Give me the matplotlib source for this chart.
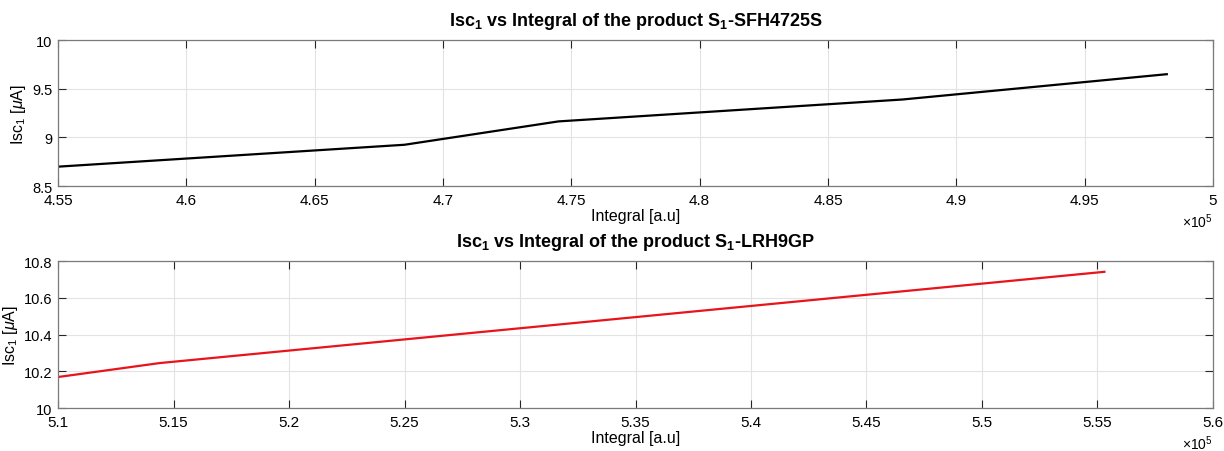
import numpy as np
import matplotlib
matplotlib.use('Agg')
import matplotlib.pyplot as plt
from matplotlib.ticker import FuncFormatter, MultipleLocator

plt.rcParams['font.family'] = ['Liberation Sans', 'DejaVu Sans']
plt.rcParams['mathtext.fontset'] = 'custom'
plt.rcParams['mathtext.rm'] = 'Liberation Sans'
plt.rcParams['mathtext.it'] = 'Liberation Sans:italic'
plt.rcParams['mathtext.bf'] = 'Liberation Sans:bold'

# ---- data ----
integral_sfh = [455000, 468500, 474500, 487900, 498200]
isc_sfh = [8.70, 8.925, 9.165, 9.39, 9.65]

integral_lrh = [510000, 514400, 555300]
isc_lrh = [10.169, 10.245, 10.742]

title_sfh = r'Isc$_\mathbf{1}$ vs Integral of the product S$_\mathbf{1}$-SFH4725S'
title_lrh = r'Isc$_\mathbf{1}$ vs Integral of the product S$_\mathbf{1}$-LRH9GP'

fig = plt.figure(figsize=(12.24, 4.52), dpi=100)
ax1 = fig.add_axes([0.0474, 0.586, 0.9436, 0.323])
ax2 = fig.add_axes([0.0474, 0.095, 0.9436, 0.325])

fmt_x = FuncFormatter(lambda v, p: '%g' % round(v / 1e5, 4))
fmt_y = FuncFormatter(lambda v, p: '%g' % round(v, 4))


def style(ax, xlim, ylim, xstep, ystep, title):
    ax.set_xlim(*xlim)
    ax.set_ylim(*ylim)
    ax.xaxis.set_major_locator(MultipleLocator(xstep))
    ax.yaxis.set_major_locator(MultipleLocator(ystep))
    ax.xaxis.set_major_formatter(fmt_x)
    ax.yaxis.set_major_formatter(fmt_y)
    ax.grid(True, color='#e3e3e3', linewidth=0.8)
    ax.set_axisbelow(True)
    ax.tick_params(direction='in', top=True, right=True, length=6,
                   width=0.8, color='#262626')
    ax.tick_params(axis='x', pad=5, labelsize=11)
    ax.tick_params(axis='y', pad=4, labelsize=10.5)
    for s in ax.spines.values():
        s.set_color('#7a7a7a')
        s.set_linewidth(0.9)
    ax.set_xlabel('Integral [a.u]', fontsize=11.5, labelpad=1)
    ax.set_ylabel(r'Isc$_1$ [$\mathit{\mu}$A]', fontsize=11.5, labelpad=3)
    ax.set_title(title, fontsize=13, fontweight='bold', pad=11)
    ax.text(1.0, -0.235, r'$\times$10$^5$', transform=ax.transAxes,
            ha='right', va='center', fontsize=10)


ax1.plot(integral_sfh, isc_sfh, color='black', linewidth=1.6)
style(ax1, (455000, 500000), (8.5, 10), 5000, 0.5, title_sfh)

ax2.plot(integral_lrh, isc_lrh, color='#e8141b', linewidth=1.6)
style(ax2, (510000, 560000), (10, 10.8), 5000, 0.2, title_lrh)

fig.savefig('out.png', dpi=100)
